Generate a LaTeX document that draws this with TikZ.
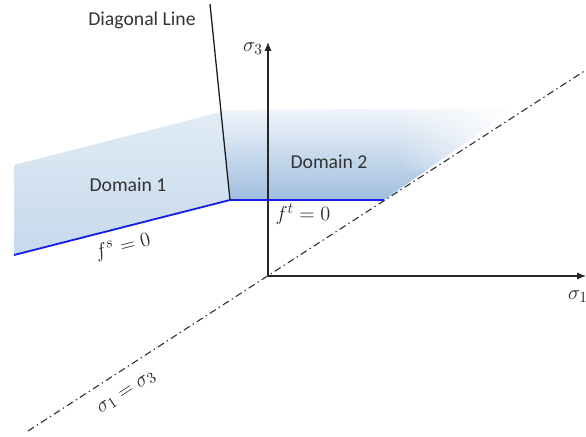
\documentclass[tikz,border=0pt]{standalone}
\usepackage{amsmath,amssymb}
\usepackage{fontspec}
\setsansfont{Carlito}
\usepackage{xcolor}
\usetikzlibrary{arrows.meta, positioning, fadings}

\definecolor{domainblue}{RGB}{160,190,223}
\definecolor{domainlight}{RGB}{214,228,242}
\definecolor{yieldblue}{RGB}{20,30,230}

\begin{document}
\begin{tikzpicture}[
    x=0.025cm, y=-0.025cm,
    label/.style={font=\sffamily\fontsize{14}{16}\selectfont, text=black!80, inner sep=1pt},
    mathlabel/.style={font=\fontsize{15}{18}\selectfont, text=black!85, inner sep=1pt},
    axis/.style={-{Latex[length=2.2mm, width=1.8mm]}, line width=0.9pt, color=black!85},
    yield/.style={line width=1.3pt, color=yieldblue},
    hydro/.style={line width=0.8pt, color=black!80, dash pattern=on 5pt off 2.5pt on 1pt off 2.5pt},
]
\useasboundingbox (0,0) rectangle (586,436);

% shaded domains
\shade[top color=domainlight!75, bottom color=domainlight!70!domainblue]
    (14,165) -- (221,112) -- (230,199) -- (14,255) -- cycle;
\shade[top color=domainlight!35, bottom color=domainblue]
    (221,110) -- (515,108) -- (384,200) -- (230,200) -- cycle;
\fill[white, path fading=west] (400,104) rectangle (520,170);

% points
\coordinate (O) at (268,276);
\coordinate (s3end) at (268,42);
\coordinate (s1end) at (586,276);
\coordinate (hydroA) at (28,431);
\coordinate (hydroB) at (586,70);
\coordinate (corner) at (230,200);
\coordinate (leftend) at (14,255);
\coordinate (meet) at (384,200);
\coordinate (diagtop) at (210,4);

% axes
\draw[axis] (O) -- (s3end);
\draw[axis] (O) -- (s1end);
\node[mathlabel] (s3) at (253,49) {$\sigma_3$};
\node[mathlabel] (s1) at (578,297) {$\sigma_1$};

% hydrostatic axis
\draw[hydro] (hydroA) -- (hydroB);
\node[mathlabel, rotate=33] (hydrolab) at (127,393) {$\sigma_1=\sigma_3$};

% yield surfaces
\draw[yield] (leftend) -- (corner) -- (meet);
\node[mathlabel, rotate=14] (fs) at (123,247) {$f^s=0$};
\node[mathlabel] (ft) at (303,214) {$f^t=0$};

% diagonal line
\draw[line width=0.9pt, color=black!90] (diagtop) -- (corner);
\node[label] (diaglab) at (142,20) {Diagonal Line};

\node[label] (dom1) at (128,185) {Domain 1};
\node[label] (dom2) at (329,162) {Domain 2};

\end{tikzpicture}
\end{document}
